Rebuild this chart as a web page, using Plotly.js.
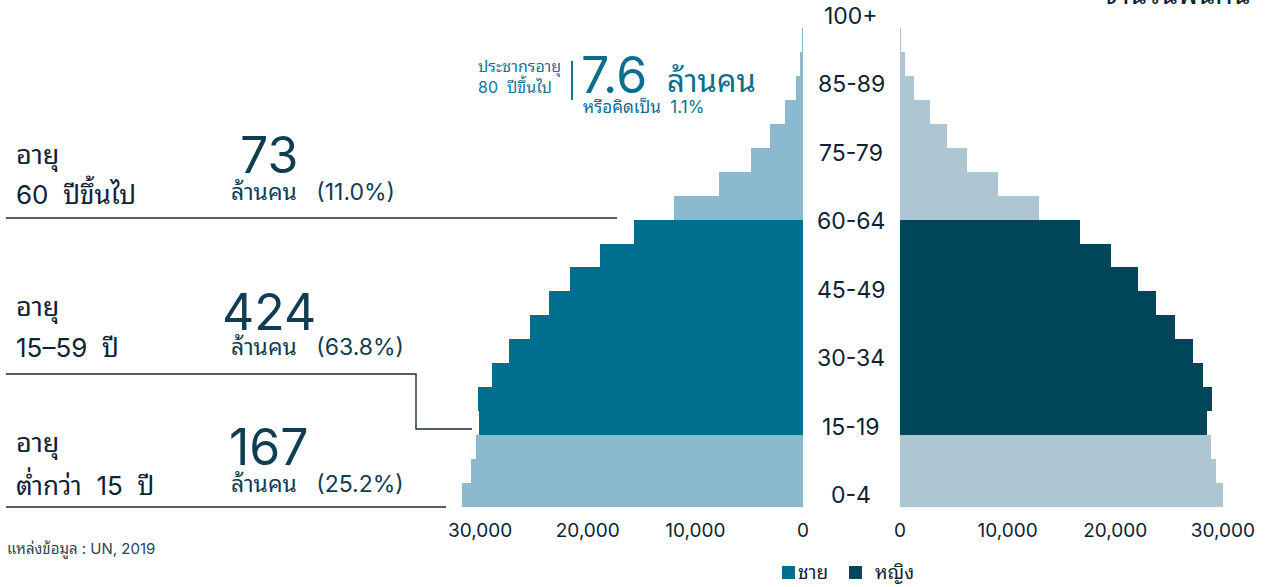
<!DOCTYPE html>
<html>
<head>
<meta charset="utf-8">
<script src="https://cdn.plot.ly/plotly-3.0.1.min.js"></script>
<style>
  html, body { margin: 0; padding: 0; background: #fff; }
  #chart { width: 1269px; height: 587px; }
</style>
</head>
<body>
<div id="chart"></div>
<script>
// ---- data (thousands of people) ----
const ageGroups = ['0-4','5-9','10-14','15-19','20-24','25-29','30-34','35-39','40-44','45-49',
  '50-54','55-59','60-64','65-69','70-74','75-79','80-84','85-89','90-94','95-99','100+'];
const male   = [31700,30900,30400,30100,30200,28900,27300,25400,23600,21700,18900,15700,
  12000,7800,4800,3100,1700,650,280,60,5];
const female = [30000,29400,28900,28500,29000,28200,27200,25600,23800,22100,19600,16700,
  12900,9100,6200,4350,2800,1300,470,120,15];
const ageTickLabels = ['0-4','15-19','30-34','45-49','60-64','75-79','85-89','100+'];
const xTickVals = [0, 10000, 20000, 30000];
const workingAgeGroups = ['15-19','20-24','25-29','30-34','35-39','40-44','45-49','50-54','55-59'];
const groupTitles = [['อายุ','60&nbsp;&nbsp;ปีขึ้นไป'],['อายุ','15–59&nbsp;&nbsp;ปี'],['อายุ','ต่ำกว่า&nbsp;&nbsp;15&nbsp;&nbsp;ปี']];
const groupTotals = ['73','424','167'];
const groupShares = ['(11.0%)','(63.8%)','(25.2%)'];
const legendNames = ['ชาย','หญิง'];

// ---- styling ----
const W = 1269, H = 587;
const C = {
  maleLight: '#8bb9d0', maleDark: '#006e8f',
  femaleLight: '#aec6d2', femaleDark: '#00465b',
  ink: '#0d2235', teal: '#0f3d52', accent: '#137596'
};
const FONT = "Inter, 'Noto Sans Thai Looped', Loma, Garuda, 'Noto Sans Thai', 'Noto Sans', sans-serif";
const px = (x) => x / W;
const py = (y) => 1 - y / H;

const maleColors = ageGroups.map(a => workingAgeGroups.includes(a) ? C.maleDark : C.maleLight);
const femaleColors = ageGroups.map(a => workingAgeGroups.includes(a) ? C.femaleDark : C.femaleLight);

const traces = [
  { type: 'bar', orientation: 'h', y: ageGroups, x: male, name: legendNames[0],
    xaxis: 'x', yaxis: 'y', marker: { color: maleColors, line: { width: 0 } },
    showlegend: false, hoverinfo: 'x+y' },
  { type: 'bar', orientation: 'h', y: ageGroups, x: female, name: legendNames[1],
    xaxis: 'x2', yaxis: 'y2', marker: { color: femaleColors, line: { width: 0 } },
    showlegend: false, hoverinfo: 'x+y' }
];

const xTickText = xTickVals.map(v => v.toLocaleString('en-US'));
const axisX = {
  tickvals: xTickVals, ticktext: xTickText, showgrid: false, zeroline: false, showline: false,
  ticks: '', ticklabelstandoff: 10, tickfont: { family: FONT, size: 19, color: C.ink }
};
const yRange = [-0.5, ageGroups.length - 0.5];
const axisY = { type: 'category', range: yRange, showticklabels: false, showgrid: false,
  zeroline: false, showline: false, fixedrange: true };

const leftDomain = [px(440), px(803)];
const rightDomain = [px(900), px(1260)];
const pxPerUnit = 107.6 / 10000;

const layout = {
  width: W, height: H,
  margin: { l: 0, r: 0, t: 0, b: 0 },
  paper_bgcolor: '#fff', plot_bgcolor: '#fff',
  bargap: 0,
  showlegend: false,
  font: { family: FONT, color: C.ink },
  xaxis: Object.assign({}, axisX, { domain: leftDomain, range: [(803 - 440) / pxPerUnit, 0], anchor: 'y' }),
  xaxis2: Object.assign({}, axisX, { domain: rightDomain, range: [0, (1260 - 900) / pxPerUnit], anchor: 'y2' }),
  yaxis: Object.assign({}, axisY, { domain: [1 - 507 / H, 1 - 4 / H], anchor: 'x' }),
  yaxis2: Object.assign({}, axisY, { domain: [1 - 507 / H, 1 - 4 / H], anchor: 'x2' }),
  annotations: [], shapes: []
};

const A = layout.annotations, S = layout.shapes;

// age labels between panels, evenly spread across the category range
const nCat = ageGroups.length - 1;
ageTickLabels.forEach((t, j) => {
  A.push({ xref: 'paper', yref: 'y', x: px(851), y: j * nCat / (ageTickLabels.length - 1),
    text: t, showarrow: false, xanchor: 'center', yanchor: 'middle',
    font: { family: FONT, size: 23, color: C.ink } });
});

// left-side group blocks
const blockY = [[155, 192], [307, 347], [443, 484]];
const bigY = [155, 312, 447];
groupTitles.forEach((lines, i) => {
  A.push({ xref: 'paper', yref: 'paper', x: px(14), y: py(blockY[i][0]), text: lines[0],
    showarrow: false, xanchor: 'left', yanchor: 'middle', font: { family: FONT, size: 27, color: C.ink } });
  A.push({ xref: 'paper', yref: 'paper', x: px(14), y: py(blockY[i][1]), text: lines[1],
    showarrow: false, xanchor: 'left', yanchor: 'middle', font: { family: FONT, size: 26, color: C.ink } });
  A.push({ xref: 'paper', yref: 'paper', x: px(269), y: py(bigY[i]), text: groupTotals[i],
    showarrow: false, xanchor: 'center', yanchor: 'middle', font: { family: FONT, size: 50, color: C.teal } });
  A.push({ xref: 'paper', yref: 'paper', x: px(229), y: py(blockY[i][1]), text: 'ล้านคน&nbsp;&nbsp;&nbsp;' + groupShares[i],
    showarrow: false, xanchor: 'left', yanchor: 'middle', font: { family: FONT, size: 23, color: C.teal } });
});

// divider lines
const lineStyle = { color: '#1b2a3c', width: 1.4 };
S.push({ type: 'line', xref: 'paper', yref: 'paper', x0: px(6), x1: px(617), y0: py(218), y1: py(218), line: lineStyle });
S.push({ type: 'path', xref: 'paper', yref: 'paper',
  path: `M ${px(6)} ${py(374)} L ${px(416)} ${py(374)} L ${px(416)} ${py(429)} L ${px(472)} ${py(429)}`,
  line: lineStyle });
S.push({ type: 'line', xref: 'paper', yref: 'paper', x0: px(6), x1: px(446), y0: py(507), y1: py(507), line: lineStyle });

// 80+ callout
A.push({ xref: 'paper', yref: 'paper', x: px(563), y: py(76), text: 'ประชากรอายุ<br>80&nbsp;&nbsp;ปีขึ้นไป',
  showarrow: false, xanchor: 'right', yanchor: 'middle', align: 'left',
  font: { family: FONT, size: 16, color: C.accent } });
S.push({ type: 'line', xref: 'paper', yref: 'paper', x0: px(572), x1: px(572), y0: py(61), y1: py(100),
  line: { color: C.accent, width: 2 } });
A.push({ xref: 'paper', yref: 'paper', x: px(579), y: py(75), text: '7.6',
  showarrow: false, xanchor: 'left', yanchor: 'middle', font: { family: FONT, size: 50, color: '#0a6f8f' } });
A.push({ xref: 'paper', yref: 'paper', x: px(665), y: py(80), text: 'ล้านคน',
  showarrow: false, xanchor: 'left', yanchor: 'middle', font: { family: FONT, size: 31, color: '#0a6f8f' } });
A.push({ xref: 'paper', yref: 'paper', x: px(581), y: py(107), text: 'หรือคิดเป็น&nbsp;&nbsp;1.1%',
  showarrow: false, xanchor: 'left', yanchor: 'middle', font: { family: FONT, size: 17, color: '#0a6f8f' } });

// unit note, cut at the top edge
A.push({ xref: 'paper', yref: 'paper', x: px(1252), y: py(13), text: 'จำนวนพันคน',
  showarrow: false, xanchor: 'right', yanchor: 'bottom', font: { family: FONT, size: 28, color: C.ink } });

// source
A.push({ xref: 'paper', yref: 'paper', x: px(5), y: py(549), text: 'แหล่งข้อมูล : UN, 2019',
  showarrow: false, xanchor: 'left', yanchor: 'middle', font: { family: FONT, size: 15, color: '#2d4456' } });

// legend
const legendItems = [
  { x: 782, color: C.maleDark, text: legendNames[0], tx: 796 },
  { x: 849, color: C.femaleDark, text: legendNames[1], tx: 873 }
];
legendItems.forEach(it => {
  S.push({ type: 'rect', xref: 'paper', yref: 'paper', x0: px(it.x), x1: px(it.x + 13),
    y0: py(566), y1: py(579), fillcolor: it.color, line: { width: 0 } });
  A.push({ xref: 'paper', yref: 'paper', x: px(it.tx), y: py(572), text: it.text,
    showarrow: false, xanchor: 'left', yanchor: 'middle', font: { family: FONT, size: 19, color: C.ink } });
});

Plotly.newPlot('chart', traces, layout, { displayModeBar: false, staticPlot: true });
</script>
</body>
</html>
